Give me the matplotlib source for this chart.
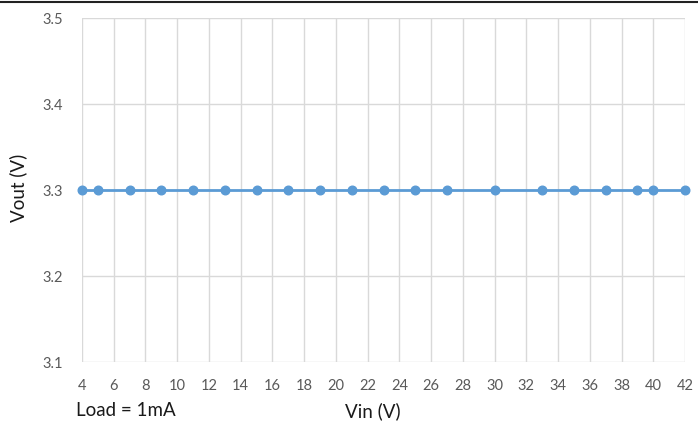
import matplotlib
matplotlib.use("Agg")
import matplotlib.pyplot as plt
from matplotlib.lines import Line2D

plt.rcParams['font.family'] = ['Lato', 'DejaVu Sans']

vin = [4, 5, 7, 9, 11, 13, 15, 17, 19, 21, 23, 25, 27, 30, 33, 35, 37, 39, 40, 42]
vout = [3.30] * len(vin)
xticks = list(range(4, 43, 2))
yticks = [3.1, 3.2, 3.3, 3.4, 3.5]

fig = plt.figure(figsize=(6.98, 4.26), dpi=100)
ax = fig.add_axes([82/698, 1-362/426, (685-82)/698, (362-18)/426])

ax.plot(vin, vout, color='#5B9BD5', linewidth=2.0, marker='o', markersize=6.2,
        markerfacecolor='#5B9BD5', markeredgecolor='#5B9BD5', zorder=3, clip_on=False)

ax.set_xlim(4, 42)
ax.set_ylim(3.1, 3.5)
ax.set_xticks(xticks)
ax.set_yticks(yticks)
ax.set_yticklabels([f"{v:.1f}" for v in yticks])
ax.grid(True, color='#D9D9D9', linewidth=1.0)
ax.set_axisbelow(True)
for s in ax.spines.values():
    s.set_visible(False)
ax.tick_params(axis='both', length=0, labelsize=10.5, labelcolor='#595959')
ax.tick_params(axis='x', pad=12)
ax.tick_params(axis='y', pad=14)

fig.text(76/698, 1-411/426, "Load = 1mA", fontsize=13.5, color='#1a1a1a', ha='left', va='center')
fig.text(373/698, 1-411/426, "Vin (V)", fontsize=13.5, color='#1a1a1a', ha='center', va='center')
fig.text(18/698, 1-188/426, "Vout (V)", fontsize=13.5, color='#1a1a1a', ha='center', va='center', rotation=90)

fig.add_artist(Line2D([0, 1], [1-1.5/426, 1-1.5/426], transform=fig.transFigure, color='#222222', linewidth=1.5))

fig.savefig("out.png", dpi=100, facecolor='white')
